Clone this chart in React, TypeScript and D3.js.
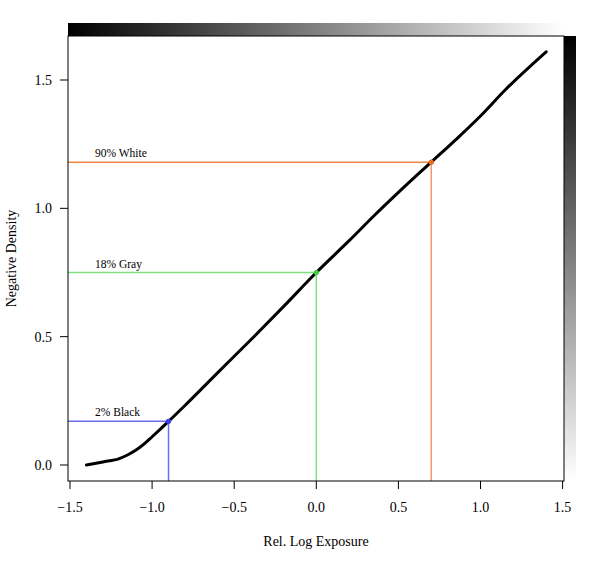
import React from "react";
import * as d3 from "d3";

const curveX = [-1.4, -1.3, -1.2, -1.15, -1.1, -1.05, -1.0, -0.9, -0.8, -0.6, -0.4, -0.2, 0, 0.2, 0.35, 0.5, 0.7, 0.85, 1.0, 1.15, 1.4];
const curveY = [0.0, 0.012, 0.025, 0.039, 0.057, 0.081, 0.110, 0.17, 0.232, 0.36, 0.487, 0.617, 0.75, 0.874, 0.970, 1.062, 1.18, 1.268, 1.360, 1.461, 1.61];

const refLabels = ["2% Black", "18% Gray", "90% White"];
const refX = [-0.9, 0.0, 0.7];
const refY = [0.17, 0.75, 1.18];
const refLineColors = ["#6c6cf2", "#7fe07f", "#f5996a"];
const refHLineColors = ["#6c6cf2", "#7fe07f", "#f08545"];
const refPointColors = ["#3a3af0", "#3fcf3f", "#f06a20"];

const xTicks = [-1.5, -1.0, -0.5, 0.0, 0.5, 1.0, 1.5];
const yTicks = [0.0, 0.5, 1.0, 1.5];

const font = "'Liberation Serif', 'Times New Roman', serif";

export default function App() {
  const W = 600, H = 567;
  const left = 68, right = 564, top = 36, bottom = 481;
  const x = d3.scaleLinear().domain([-1.5, 1.5]).range([70, 562.6]);
  const y = d3.scaleLinear().domain([0, 1.5]).range([465, 80]);
  const pts: [number, number][] = curveX.map((v, i) => [v, curveY[i]]);
  const line = d3.line<[number, number]>().x(d => x(d[0])).y(d => y(d[1])).curve(d3.curveMonotoneX);
  const fmt = (v: number) => (v < 0 ? "\u2212" : "") + Math.abs(v).toFixed(1);

  return (
    <svg width={W} height={H} style={{ position: "absolute", left: 0, top: 0, background: "#fff" }} fontFamily={font}>
      <defs>
        <linearGradient id="gTop" x1="0" x2="1" y1="0" y2="0">
          <stop offset="0" stopColor="#000" />
          <stop offset="1" stopColor="#fff" />
        </linearGradient>
        <linearGradient id="gRight" x1="0" x2="0" y1="0" y2="1">
          <stop offset="0" stopColor="#000" />
          <stop offset="1" stopColor="#fff" />
        </linearGradient>
      </defs>
      <rect x={0} y={0} width={W} height={H} fill="#fff" />
      <rect x={left} y={23} width={right - left - 1} height={top - 23} fill="url(#gTop)" />
      <rect x={right} y={top} width={12} height={bottom - top} fill="url(#gRight)" />

      {refX.map((rx, i) => (
        <g key={refLabels[i]}>
          <line x1={left} x2={x(rx)} y1={y(refY[i])} y2={y(refY[i])} stroke={refHLineColors[i]} strokeWidth={1.5} />
          <line x1={x(rx)} x2={x(rx)} y1={y(refY[i])} y2={bottom} stroke={refLineColors[i]} strokeWidth={1.5} />
          <text x={95} y={y(refY[i]) - 5} fontSize={11.5} fill="#000">{refLabels[i]}</text>
        </g>
      ))}

      <path d={line(pts) || ""} fill="none" stroke="#000" strokeWidth={3} strokeLinecap="round" strokeLinejoin="round" />

      {refX.map((rx, i) => (
        <circle key={"p" + i} cx={x(rx)} cy={y(refY[i])} r={2.6} fill={refPointColors[i]} />
      ))}

      <rect x={left} y={top} width={right - left} height={bottom - top} fill="none" stroke="#000" strokeWidth={1} />

      {xTicks.map(t => (
        <g key={"xt" + t}>
          <line x1={x(t)} x2={x(t)} y1={bottom} y2={bottom + 8} stroke="#000" strokeWidth={1} />
          <text x={x(t)} y={512} textAnchor="middle" fontSize={14}>{fmt(t)}</text>
        </g>
      ))}
      {yTicks.map(t => (
        <g key={"yt" + t}>
          <line x1={left - 8} x2={left} y1={y(t)} y2={y(t)} stroke="#000" strokeWidth={1} />
          <text x={52} y={y(t)} dy="0.35em" textAnchor="end" fontSize={14}>{fmt(t)}</text>
        </g>
      ))}

      <text x={316} y={546} textAnchor="middle" fontSize={14}>Rel. Log Exposure</text>
      <text transform={`translate(16,${(top + bottom) / 2}) rotate(-90)`} textAnchor="middle" fontSize={14}>Negative Density</text>
    </svg>
  );
}
